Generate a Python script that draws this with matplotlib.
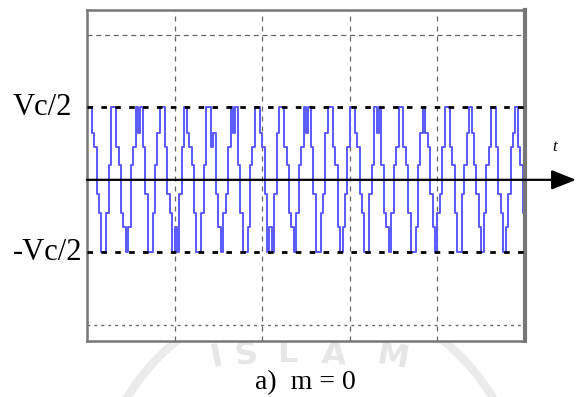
import numpy as np
import matplotlib.pyplot as plt
from matplotlib.patches import Arc

# staircase output voltage (units of Vc/2), read by eye, one value per switching step
levels = [
    1, 1, 0.65, 0.45, -0.2, -0.45, -1, -1, -0.45, 0.2,
    1, 1, 0.45, 0.2, -0.45, -0.65, -1, -0.65, 0.2, 0.45,
    1, 0.65, 1, 0.45, -0.2, -1, -1, -0.45, 0.2, 0.65,
    1, 1, 0.45, -0.2, -0.45, -1, -0.65, -1, -0.2, 0.45,
    1, 0.65, 0.45, 0.2, -0.45, -1, -1, -0.45, 0.2, 1,
    1, 0.45, 0.65, -0.2, -0.65, -1, -0.45, -0.2, 0.45, 1,
    0.65, 1, 0.2, -0.45, -1, -1, -0.65, 0.2, 0.45, 1,
    1, 0.65, 0.45, -0.2, -1, -0.65, -1, -0.2, 0.65, 1,
    1, 0.45, 0.2, -0.45, -0.65, -1, -0.45, 0.2, 0.45, 1,
    0.65, 1, 0.45, -0.2, -1, -1, -0.45, -0.2, 0.65, 1,
    1, 0.45, 0.2, -0.65, -1, -0.65, -0.2, 0.45, 1, 1,
    0.65, 0.45, -0.2, -0.45, -1, -1, -0.2, 0.2, 1, 0.65,
    1, 0.2, -0.45, -0.65, -1, -0.45, 0.2, 0.45, 1, 1,
    0.45, 0.2, -0.45, -1, -1, -0.65, 0.2, 0.65, 1, 0.65,
    0.45, -0.2, -0.65, -1, -0.45, -0.2, 0.45, 1, 1, 0.45,
    0.2, -0.45, -1, -1, -0.2, 0.2, 0.65, 1, 0.65, 0.2,
    -0.2, -0.65, -1, -0.45, 0.2, 0.45, 1, 1, 0.45, -0.2,
    -0.45, -1, -0.65, -0.2, 0.45, 0.65, 1, 0.45, 0.2, -0.45,
]
y_ticks = [1, -1]
y_labels = ['Vc/2', '-Vc/2']
caption = 'a)  m = 0'
watermark = ['I', 'S', 'L', 'A', 'M']

serif = ['Liberation Serif', 'DejaVu Serif']

fig = plt.figure(figsize=(5.79, 3.97), dpi=100)
fig.patch.set_facecolor('white')

# faint watermark behind everything (pixel coords, y downwards)
wm = fig.add_axes([0, 0, 1, 1], zorder=0)
wm.set_xlim(0, 579)
wm.set_ylim(397, 0)
wm.axis('off')
wm.add_patch(Arc((310, 507), 426, 426, theta1=180, theta2=360, color='#ebebeb', lw=6))
wm_pos = [(216, 357, 12), (246, 355, 6), (287, 354, 0), (334, 355, -4), (392, 357, -10)]
for ch, (x, y, rot) in zip(watermark, wm_pos):
    wm.text(x, y, ch, fontsize=23, fontweight='bold', color='#e6e6e6', rotation=rot,
            ha='center', va='center', family='DejaVu Sans')

ax = fig.add_axes([0.150, 0.141, 0.757, 0.834], zorder=1)
ax.patch.set_facecolor('white')

t = np.linspace(0, 5, len(levels) + 1)
ax.step(t, levels + [levels[-1]], where='post', color='#5a5aff', lw=1.4, zorder=2)

ax.set_xlim(0, 5)
ax.set_ylim(-2.22, 2.34)

for x in [1, 2, 3, 4]:
    ax.axvline(x, color='#666666', ls=(0, (4, 4)), lw=0.9, zorder=1)
ax.axhline(2, color='#666666', ls=(0, (4, 3)), lw=0.9, zorder=1)
ax.axhline(-2, color='#666666', ls=(0, (2, 3)), lw=1.0, zorder=1)
for yv in y_ticks:
    ax.axhline(yv, color='black', ls=(0, (2, 3)), lw=2.0, zorder=3)

for s in ax.spines.values():
    s.set_color('#777777')
    s.set_linewidth(1.8)
ax.spines['right'].set_linewidth(3)

ax.set_xticks([])
ax.set_yticks([])

# level labels, left aligned near the figure edge
for yv, lab in zip(y_ticks, y_labels):
    ax.text(-0.845, yv, lab, fontsize=22, family=serif, ha='left', va='center',
            clip_on=False)

# time axis with arrow running past the frame
ax.annotate('', xy=(5.58, 0), xytext=(0, 0), xycoords='data', annotation_clip=False,
            arrowprops=dict(arrowstyle='-|>,head_length=1.5,head_width=0.6',
                            color='black', lw=1.6, shrinkA=0, shrinkB=0), zorder=4)
ax.text(5.34, 0.45, 't', fontsize=12, style='italic', family=serif,
        ha='center', va='center', clip_on=False)

fig.text(0.527, 0.036, caption, fontsize=20, family=serif, ha='center', va='center')

fig.savefig('out.png', dpi=100)
